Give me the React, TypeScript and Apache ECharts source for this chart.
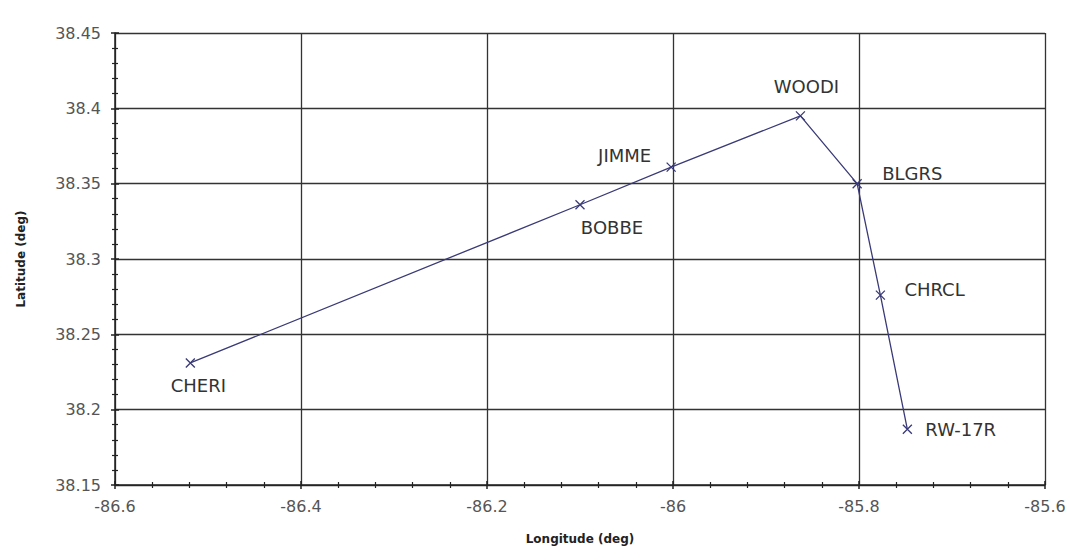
import React, { useEffect, useRef } from "react";
import * as echarts from "echarts";

const fixNames = ["CHERI", "BOBBE", "JIMME", "WOODI", "BLGRS", "CHRCL", "RW-17R"];
const longitudes = [-86.519, -86.1, -86.002, -85.863, -85.802, -85.777, -85.748];
const latitudes = [38.231, 38.336, 38.361, 38.395, 38.35, 38.276, 38.187];

const xMin = -86.6;
const xMax = -85.6;
const xStep = 0.2;
const yMin = 38.15;
const yMax = 38.45;
const yStep = 0.05;

const labelPlacement: Record<string, any> = {
  CHERI: { position: "bottom", distance: 7, offset: [8, 0] },
  BOBBE: { position: "bottom", distance: 7, offset: [32, 0] },
  JIMME: { position: "left", distance: 13, offset: [0, -12] },
  WOODI: { position: "top", distance: 13, offset: [6, 0] },
  BLGRS: { position: "right", distance: 18, offset: [0, -10] },
  CHRCL: { position: "right", distance: 17, offset: [0, -6] },
  "RW-17R": { position: "right", distance: 11, offset: [0, 0] },
};

const FONT = "DejaVu Sans";
const AX = "#222";

export default function App() {
  const ref = useRef<HTMLDivElement>(null);
  useEffect(() => {
    if (!ref.current) return;
    const chart = echarts.init(ref.current, null, { renderer: "svg" });
    const data = fixNames.map((n, i) => ({
      name: n,
      value: [longitudes[i], latitudes[i]],
      label: {
        show: true,
        formatter: n,
        color: "#333",
        fontFamily: FONT,
        fontSize: 18,
        ...labelPlacement[n],
      },
    }));
    const baseX = {
      type: "value",
      min: xMin,
      max: xMax,
      interval: xStep,
      position: "bottom",
      gridIndex: 0,
    };
    const baseY = {
      type: "value",
      min: yMin,
      max: yMax,
      interval: yStep,
      position: "left",
      gridIndex: 0,
    };
    chart.setOption({
      animation: false,
      backgroundColor: "#fff",
      grid: { left: 115, right: 28, top: 33, bottom: 61, containLabel: false },
      xAxis: [
        {
          ...baseX,
          name: "Longitude (deg)",
          nameLocation: "middle",
          nameGap: 48,
          nameTextStyle: { fontFamily: FONT, fontWeight: "bold", fontSize: 12, color: "#222" },
          axisLine: { show: true, lineStyle: { color: AX, width: 1.5 } },
          axisTick: { show: true, length: 4, lineStyle: { color: AX, width: 1.5 } },
          minorTick: { show: true, splitNumber: 5, length: 3, lineStyle: { color: AX, width: 1.2 } },
          axisLabel: { fontFamily: FONT, fontSize: 16, color: "#555", margin: 13 },
          splitLine: { show: true, lineStyle: { color: "#333", width: 1.3 } },
        },
        {
          ...baseX,
          axisLine: { show: false },
          axisTick: { show: true, inside: true, length: 4, lineStyle: { color: AX, width: 1.5 } },
          minorTick: { show: true, splitNumber: 5, length: 3, lineStyle: { color: AX, width: 1.2 } },
          axisLabel: { show: false },
          splitLine: { show: false },
        },
      ],
      yAxis: [
        {
          ...baseY,
          name: "Latitude (deg)",
          nameLocation: "middle",
          nameGap: 88,
          nameRotate: 90,
          nameTextStyle: { fontFamily: FONT, fontWeight: "bold", fontSize: 12, color: "#222" },
          axisLine: { show: true, lineStyle: { color: AX, width: 1.5 } },
          axisTick: { show: true, length: 4, lineStyle: { color: AX, width: 1.5 } },
          minorTick: { show: true, splitNumber: 5, length: 3, lineStyle: { color: AX, width: 1.2 } },
          axisLabel: { fontFamily: FONT, fontSize: 16, color: "#555", margin: 14 },
          splitLine: { show: true, lineStyle: { color: "#333", width: 1.3 } },
        },
        {
          ...baseY,
          axisLine: { show: false },
          axisTick: { show: true, inside: true, length: 4, lineStyle: { color: AX, width: 1.5 } },
          minorTick: { show: true, splitNumber: 5, length: 3, lineStyle: { color: AX, width: 1.2 } },
          axisLabel: { show: false },
          splitLine: { show: false },
        },
      ],
      series: [
        {
          type: "line",
          xAxisIndex: 0,
          yAxisIndex: 0,
          data,
          symbol: "path://M0,0L10,10M10,0L0,10",
          symbolSize: 9,
          showAllSymbol: true,
          lineStyle: { color: "#3a3a78", width: 1.3 },
          itemStyle: { color: "none", borderColor: "#3a3a78", borderWidth: 1.3 },
        },
      ],
    });
    return () => chart.dispose();
  }, []);
  return (
    <div
      ref={ref}
      style={{ position: "fixed", left: 0, top: 0, width: 1073, height: 550 }}
    />
  );
}
